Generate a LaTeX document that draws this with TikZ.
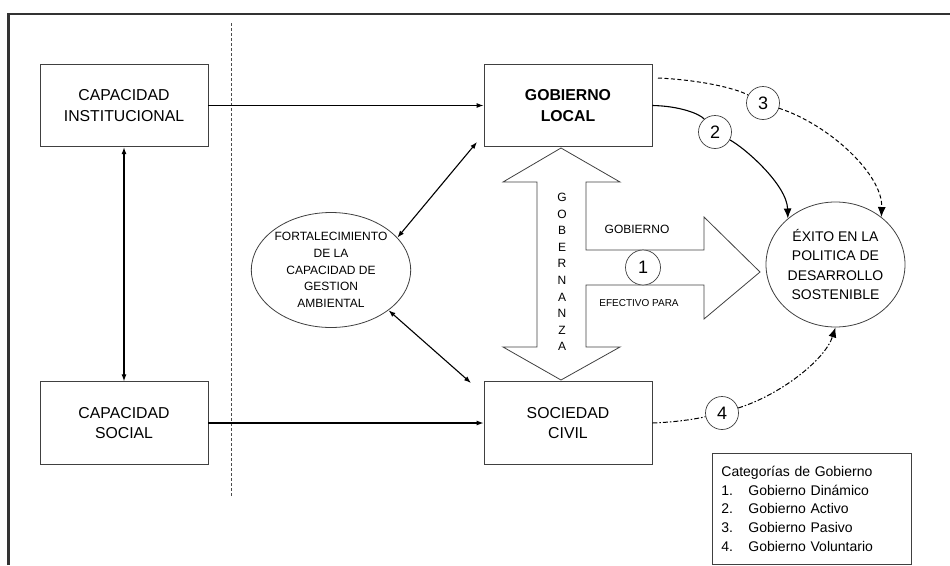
\documentclass[tikz,border=0pt]{standalone}
\usepackage{fontspec}
\setmainfont{Liberation Sans}
\usetikzlibrary{arrows.meta,positioning,shapes}

\begin{document}
\begin{tikzpicture}[x=1pt,y=-1pt]
    \tikzstyle{box} = [draw=black!75, line width=0.8pt, minimum width=168pt,
    minimum height=82.5pt, inner sep=2pt, align=center,
    font=\fontsize{15.8}{20.7}\selectfont]
    \tikzstyle{oval} = [draw=black!75, line width=0.8pt, ellipse, inner sep=0pt,
    align=center]
    \tikzstyle{num} = [draw=black!75, line width=0.7pt, circle, fill=white,
    minimum size=33pt, inner sep=0pt, font=\fontsize{18}{18}\selectfont]
    \tikzstyle{link} = [line width=1.1pt, -{Latex[length=7pt,width=5pt]}]
    \tikzstyle{twoway} = [line width=1.1pt,
    {Latex[length=7pt,width=5pt]}-{Latex[length=7pt,width=5pt]}]
    \tikzstyle{curve} = [line width=1.1pt]
    \tikzstyle{tip} = [-{Latex[length=10pt,width=8pt]}]

    \useasboundingbox (0,0) rectangle (950,565);
    % marco y division
    \draw[black!80, line width=2.5pt] (8.5,565) -- (8.5,14) -- (950,14);
    \draw[black!70, line width=0.6pt, dash pattern=on 3pt off 2pt] (231,23) -- (231,497);

    \draw
    (124,105.5) node [box] (ci) {CAPACIDAD\\INSTITUCIONAL}
    (124,423) node [box] (cs) {CAPACIDAD\\SOCIAL}
    (568,105.5) node [box,font=\fontsize{15.8}{20.7}\selectfont\bfseries] (gl) {GOBIERNO\\LOCAL}
    (568,423) node [box] (sc) {SOCIEDAD\\CIVIL}
    (331,270) node [oval, minimum width=147pt, minimum height=115pt,
    font=\fontsize{12}{16.7}\selectfont] (fort)
    {FORTALECIMIENTO\\DE LA\\CAPACIDAD DE\\GESTION\\AMBIENTAL}
    (835.5,264.5) node [oval, minimum width=139pt, minimum height=125pt,
    font=\fontsize{14}{19.3}\selectfont] (exito)
    {ÉXITO EN LA\\POLITICA DE\\DESARROLLO\\SOSTENIBLE}
    ;

    % flecha de gobernanza
    \draw[black!75, line width=0.8pt]
    (561,148) -- (620,182) -- (586,182) -- (586,250) -- (704,250) -- (704,217)
    -- (760,272) -- (704,319) -- (704,285) -- (586,285) -- (586,347) -- (620,347)
    -- (561,380) -- (503,347) -- (537,347) -- (537,182) -- (503,182) -- cycle;

    \node[align=center, font=\fontsize{12}{16.6}\selectfont] (gobz) at (562,272)
    {G\\O\\B\\E\\R\\N\\A\\N\\Z\\A};
    \node[font=\fontsize{12}{12}\selectfont] (tgob) at (637,229) {GOBIERNO};
    \node[font=\fontsize{10}{10}\selectfont] (tefe) at (639,303) {EFECTIVO PARA};

    \node[num, minimum size=35pt] (n1) at (643,267.5) {1};
    \node[num] (n2) at (715,132) {2};
    \node[num] (n3) at (763,103) {3};
    \node[num] (n4) at (722,413) {4};

    \coordinate (s3) at (658,78);
    \coordinate (glc) at (477,142);
    \coordinate (scc) at (471,383);

    \draw[link] (ci) -- (gl);
    \draw[link] (cs) -- (sc);
    \draw[twoway] (ci) -- (cs);
    \draw[twoway] (fort.26) -- (glc);
    \draw[twoway] (fort.-35) -- (scc);

    % categorias 2, 3 y 4
    \draw[curve] (gl.east) .. controls (680,106) and (700,114) .. (n2);
    \draw[curve,tip] (n2) .. controls (745,148) and (787,185) .. (exito.136);
    \draw[line width=1pt, dash pattern=on 4pt off 2.5pt] (s3) .. controls (700,80) and (735,88) .. (n3);
    \draw[line width=1pt, dash pattern=on 4pt off 2.5pt, tip] (n3) .. controls (830,125) and (883,175) .. (exito.46);
    \draw[line width=1pt, dash pattern=on 5pt off 2pt on 1.5pt off 2pt] (sc.east) .. controls (680,422) and (700,418) .. (n4);
    \draw[line width=1pt, dash pattern=on 5pt off 2pt on 1.5pt off 2pt, tip] (n4) .. controls (780,395) and (825,360) .. (exito.south);

    \node[draw=black!75, line width=0.8pt, anchor=north west, minimum height=111pt,
    text width=181pt, inner xsep=9pt, inner ysep=0pt, align=left,
    font=\fontsize{14}{18.7}\selectfont] (leyenda) at (712,453)
    {Categorías de Gobierno\\
    \makebox[27pt][l]{1.}Gobierno Dinámico\\
    \makebox[27pt][l]{2.}Gobierno Activo\\
    \makebox[27pt][l]{3.}Gobierno Pasivo\\
    \makebox[27pt][l]{4.}Gobierno Voluntario};

  \end{tikzpicture}
\end{document}
